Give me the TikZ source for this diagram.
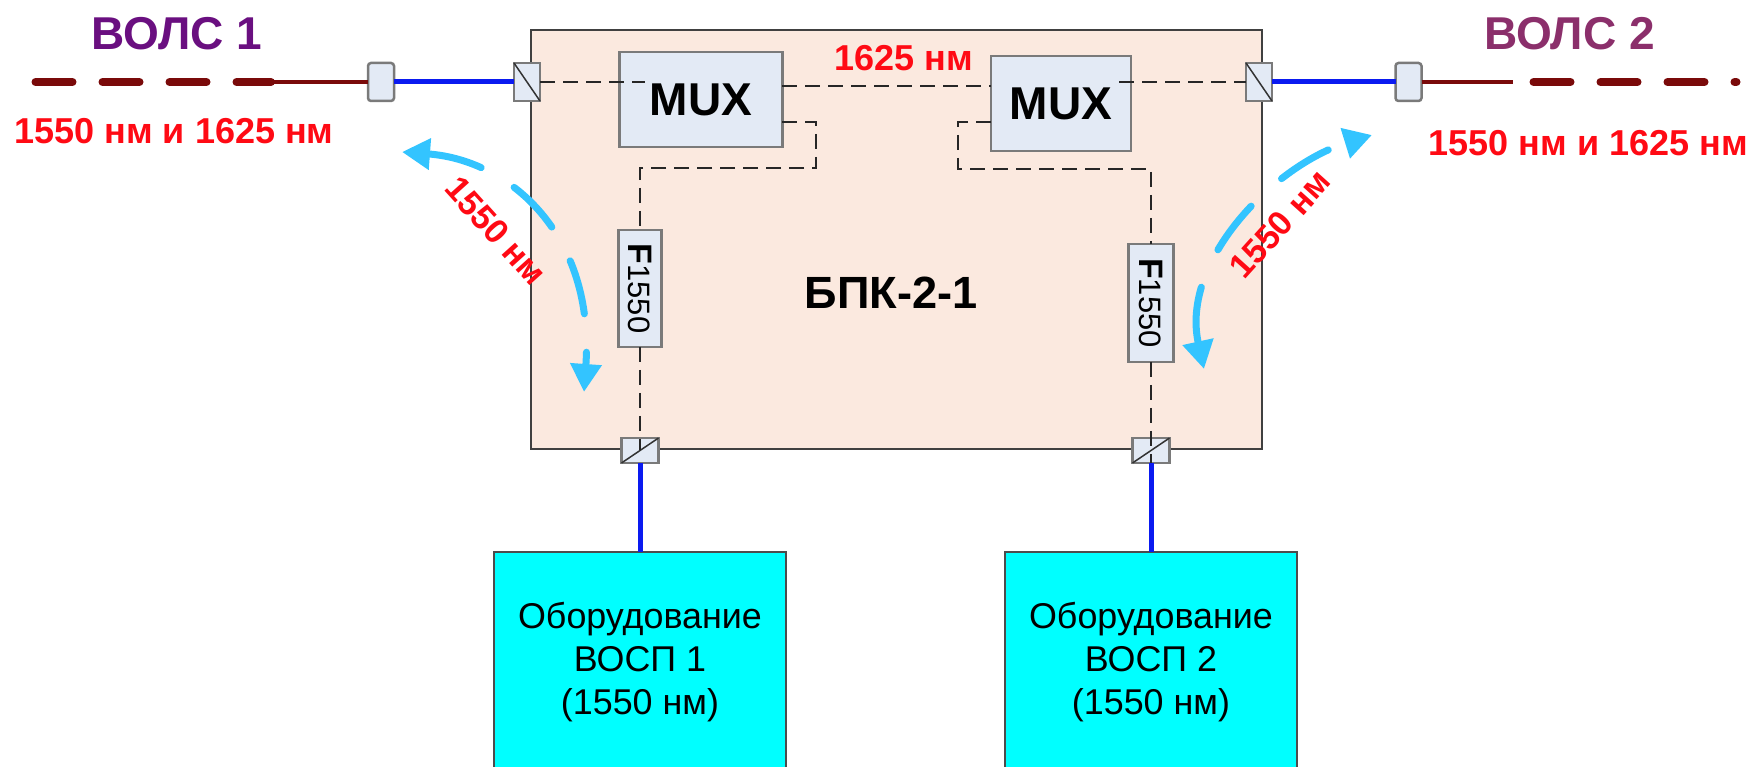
\documentclass[tikz,border=0pt]{standalone}
\usepackage{fontspec}
\setmainfont{Liberation Sans}
\usetikzlibrary{arrows.meta}
\definecolor{blockfill}{HTML}{FBE9DF}
\definecolor{partfill}{HTML}{E3EAF5}
\definecolor{partedge}{HTML}{7A7A7A}
\definecolor{trunkred}{HTML}{7A0A0A}
\definecolor{fiberblue}{HTML}{0A1AF0}
\definecolor{labelred}{HTML}{FF0A14}
\definecolor{flowblue}{HTML}{33C4FF}
\definecolor{equipcyan}{HTML}{00FFFF}
\definecolor{volsone}{HTML}{6A0F80}
\definecolor{volstwo}{HTML}{8B2F6B}
\tikzset{
  part/.style={draw=partedge, fill=partfill, rectangle, inner sep=0pt, outer sep=0pt, line width=0.05cm},
  redlabel/.style={text=labelred, font=\fontsize{20.5}{24}\selectfont\bfseries},
  arclabel/.style={text=labelred, font=\fontsize{19.5}{22}\selectfont\bfseries},
  equip/.style={draw=black!70, fill=equipcyan, rectangle, align=center, inner sep=0pt, outer sep=0pt, minimum height=4.4cm, line width=0.04cm, font=\fontsize{20.4}{24.5}\selectfont},
  fiber/.style={draw=fiberblue, line width=0.1cm},
  trunk/.style={draw=trunkred, line width=0.08cm},
  trunkfar/.style={draw=trunkred, line width=0.16cm, line cap=round, dash pattern=on 0.74cm off 0.6cm},
  inner/.style={draw=black!85, line width=0.05cm, dash pattern=on 0.3cm off 0.16cm},
  flow/.style={draw=flowblue, line width=0.14cm, line cap=round, {Triangle[length=0.56cm,width=0.6cm]}-{Triangle[length=0.56cm,width=0.6cm]}}
}
\newcommand{\filtertext}{{\fontsize{19.3}{22}\selectfont\bfseries F}{\fontsize{17.6}{22}\selectfont 1550}}
\begin{document}
\begin{tikzpicture}
\useasboundingbox (0,0) rectangle (35.06,-15.34);
\node[draw=black!75, fill=blockfill, rectangle, line width=0.05cm, minimum width=14.62cm, minimum height=8.38cm, inner sep=0pt, outer sep=0pt] (block) at (17.93,-4.79) {};
\node[font=\fontsize{25.7}{30}\selectfont\bfseries] (blockname) at (17.82,-5.86) {БПК-2-1};
\node[part, minimum width=3.26cm, minimum height=1.9cm, font=\fontsize{26.2}{30}\selectfont\bfseries] (muxl) at (14.02,-1.99) {MUX};
\node[part, minimum width=2.8cm, minimum height=1.9cm, font=\fontsize{26.2}{30}\selectfont\bfseries] (muxr) at (21.22,-2.07) {MUX};
\node[part, minimum width=2.34cm, minimum height=0.86cm, rotate=-90] (filterl) at (12.8,-5.77) {\filtertext};
\node[part, minimum width=2.36cm, minimum height=0.9cm, rotate=-90] (filterr) at (23.02,-6.06) {\filtertext};
\node[part, rounded corners=0.06cm, minimum width=0.52cm, minimum height=0.76cm] (connl) at (7.62,-1.64) {};
\node[part, rounded corners=0.06cm, minimum width=0.52cm, minimum height=0.76cm] (connr) at (28.17,-1.64) {};
\node[part, minimum width=0.52cm, minimum height=0.76cm] (couplerl) at (10.54,-1.64) {};
\node[part, minimum width=0.52cm, minimum height=0.76cm] (couplerr) at (25.18,-1.64) {};
\node[part, minimum width=0.74cm, minimum height=0.5cm] (couplerbl) at (12.8,-9.01) {};
\node[part, minimum width=0.74cm, minimum height=0.5cm] (couplerbr) at (23.02,-9.01) {};
\node[equip, minimum width=5.84cm] (equipl) at (12.8,-13.24) {Оборудование\\ВОСП 1\\(1550 нм)};
\node[equip, minimum width=5.83cm] (equipr) at (23.02,-13.24) {Оборудование\\ВОСП 2\\(1550 нм)};
\node[text=volsone, font=\fontsize{26.2}{30}\selectfont\bfseries] (volsl) at (3.54,-0.68) {ВОЛС 1};
\node[text=volstwo, font=\fontsize{26.2}{30}\selectfont\bfseries] (volsr) at (31.39,-0.68) {ВОЛС 2};
\node[redlabel] (bandl) at (3.48,-2.62) {1550 нм и 1625 нм};
\node[redlabel] (bandr) at (31.77,-2.86) {1550 нм и 1625 нм};
\node[redlabel] (bandmid) at (18.08,-1.16) {1625 нм};
\coordinate (farl) at (0.71,-1.64);
\coordinate (farlend) at (5.42,-1.64);
\coordinate (farr) at (30.67,-1.64);
\coordinate (farrend) at (34.73,-1.64);
\coordinate (thinl) at (5.46,-1.64);
\coordinate (thinr) at (30.26,-1.64);
\coordinate (muxlin) at (12.9,-1.64);
\coordinate (muxlout) at (15.64,-1.72);
\coordinate (muxrin) at (19.82,-1.72);
\coordinate (muxrout) at (22.38,-1.64);
\coordinate (muxldrop) at (15.64,-2.44);
\coordinate (muxrdrop) at (19.82,-2.44);
\coordinate (flowla) at (8.04,-3.04);
\coordinate (flowlb) at (11.68,-7.84);
\coordinate (flowra) at (27.44,-2.7);
\coordinate (flowrb) at (24.08,-7.38);
\draw[trunkfar] (farl) -- (farlend);
\draw[trunkfar] (farr) -- (farrend);
\draw[trunk] (thinl) -- (connl.west);
\draw[trunk] (connr.east) -- (thinr);
\draw[fiber] (connl.east) -- (couplerl.west);
\draw[fiber] (couplerr.east) -- (connr.west);
\draw[fiber] (couplerbl.south) -- (equipl.north);
\draw[fiber] (couplerbr.south) -- (equipr.north);
\draw[black!80, line width=0.03cm] (couplerl.north west) -- (couplerl.south east);
\draw[black!80, line width=0.03cm] (couplerr.north west) -- (couplerr.south east);
\draw[black!80, line width=0.03cm] (couplerbl.south west) -- (couplerbl.north east);
\draw[black!80, line width=0.03cm] (couplerbr.south west) -- (couplerbr.north east);
\draw[inner] (couplerl.east) -- (muxlin);
\draw[inner] (muxlout) -- (muxrin);
\draw[inner] (muxrout) -- (couplerr.west);
\draw[inner] (muxldrop) -- (16.32,-2.44) -- (16.32,-3.36) -| (filterl.west);
\draw[inner] (muxrdrop) -- (19.16,-2.44) -- (19.16,-3.38) -| (filterr.west);
\draw[inner] (filterl.east) -- (couplerbl.center);
\draw[inner] (filterr.east) -- (couplerbr.south);
\draw[flow, dash pattern=on 1.1cm off 0.77cm] (flowla) .. controls (10.2,-3.2) and (11.9,-4.7) .. (flowlb);
\draw[flow, dash pattern=on 1.1cm off 0.82cm, dash phase=1.52cm] (flowra) .. controls (25.5,-3.3) and (23.6,-5.2) .. (flowrb);
\node[arclabel, rotate=-48] (arcl) at (9.92,-4.62) {1550 нм};
\node[arclabel, rotate=48] (arcr) at (25.6,-4.48) {1550 нм};
\end{tikzpicture}
\end{document}
